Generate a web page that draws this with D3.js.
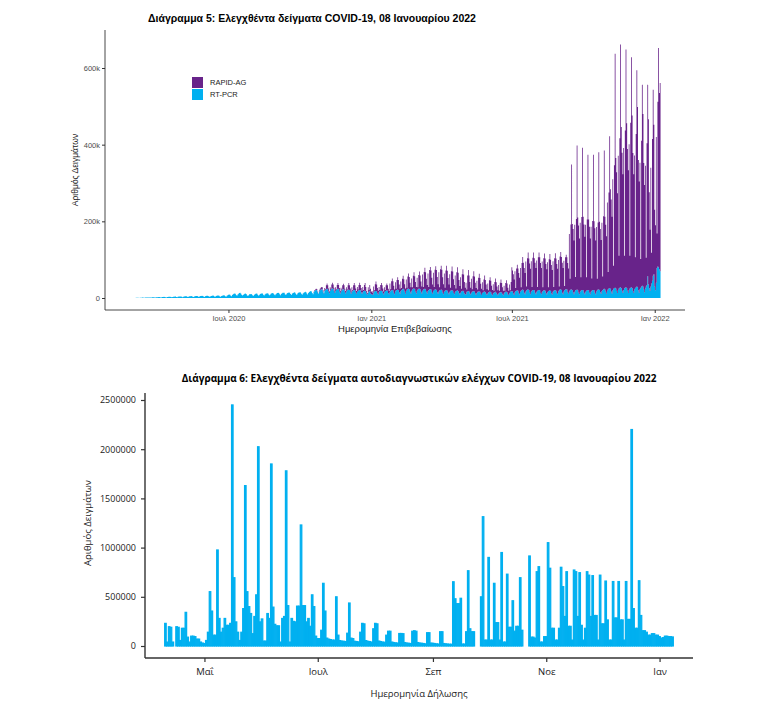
<!DOCTYPE html>
<meta charset="utf-8">
<title>Διαγράμματα 5 και 6</title>
<style>
  body { margin: 0; background: #fff; }
  svg { display: block; }
  .c5 text { font-family: "Liberation Sans", Arial, Helvetica, sans-serif; }
  .c6 text { font-family: "Open Sans", sans-serif; }
</style>
<svg id="chart" width="779" height="708"></svg>
<script src="https://d3js.org/d3.v7.min.js"></script>
<script>
// ---------- Διάγραμμα 5: ελεγχθέντα δείγματα (χιλιάδες / ημέρα), μία γραμμή ανά εβδομάδα Δευ..Κυρ
var pcrStart = "2020-02-24";
var pcrWeeks = [
  [0,0,0.1,0.1,0.2,0.2,0.1],[0.3,0.3,0.4,0.4,0.5,0.4,0.3],[0.6,0.7,0.8,1,1.1,0.9,0.7],[1.2,1.3,1.4,1.5,1.6,1.3,1],
  [1.5,1.6,1.8,2,1.9,1.5,1.2],[1.8,2,2.2,2.4,2.3,1.8,1.4],[2.2,2.5,2.8,3,2.8,2.2,1.6],[2.4,2.8,3,3.2,3.1,2.4,1.8],
  [2.8,3.2,3.5,3.8,3.6,2.8,2],[3.2,3.6,4,4.2,4,3,2.2],[3.5,4,4.4,4.6,4.3,3.3,2.4],[4,4.5,4.8,5,4.7,3.5,2.6],
  [4.2,4.8,5.2,5.4,5,3.7,2.8],[4.5,5,5.5,5.8,5.2,3.8,2.8],[4.6,5.2,5.6,6,5.4,4,3],[4.8,5.4,6,6.2,5.6,4,3],
  [5,5.6,6.2,6.5,6,4.2,3.2],[5.2,6,6.5,7,6.4,4.5,3.4],[6,7.5,8.5,9,8.5,6,4.5],[8,10,11,12,11,8,6],
  [9,11,13,13.5,12,8.5,6.5],[8,10,11,11.5,10.5,7.5,5.5],[7.5,9.5,10,10.5,10,7,5.5],[8,10,11,11.5,11,8,6],
  [8.5,10.5,11.5,12,11.5,8.5,6.5],[9,11,12,12.5,12,9,7],[9,11.5,12.5,13,12,9,7],[10,12,13,13.5,13,9.5,7.5],
  [10.5,12.5,13.5,14,13.5,10,8],[11,13,14,14.5,14,10.5,8],[11,13,14,15,14,10.5,8],[11.5,13.5,14.5,15,14.5,11,8.5],
  [12,14,15,16,15,11.5,9],[13,15.5,17,18,17,13,10],[15,18,20,21,20,15,11],[17,20,22,23,22,16,12],
  [18,21,23,24,23,17,12.5],[18,22,24,25,24,18,13],[18,21,23,24,23,17,12],[17,20,22,23,22,16,12],
  [17,20,21,22,21,16,11],[16,19,20,21,20,15,11],[16,19,20,21,20,15,11],[15,18,19,19,17,12,9],
  [14,17,18,12,10,10,8],[14,17,18,18,17,12,9],[15,18,19,19,18,13,9],[15,18,19,20,19,13,10],
  [16,19,20,21,20,14,10],[17,20,21,22,21,15,11],[18,21,23,24,22,16,11],[18,22,24,24,23,16,12],
  [19,22,24,25,23,16,12],[19,22,24,24,23,16,12],[19,22,23,24,22,16,12],[18,21,23,23,22,15,11],
  [18,21,22,23,21,15,11],[17,20,21,22,20,14,10],[16,19,20,21,19,14,10],[16,19,20,20,19,13,10],
  [15,18,19,20,18,13,9],[14,17,18,19,17,12,9],[10,16,17,18,17,12,9],[14,17,17,18,16,12,8],
  [13,16,17,17,16,11,8],[13,15,16,17,15,11,8],[12,15,16,16,15,10,7],[12,14,15,16,14,10,7],
  [12,14,15,15,14,10,7],[12,15,16,16,15,10,8],[13,16,17,18,17,12,8],[15,18,19,20,19,13,9],
  [16,19,21,22,20,14,10],[17,20,22,22,21,14,10],[16,19,21,21,20,14,10],[16,19,20,21,20,13,10],
  [15,18,20,20,19,13,9],[15,18,19,20,18,12,9],[16,19,20,21,19,13,10],[17,20,22,23,21,14,10],
  [17,21,22,23,22,15,11],[17,20,22,22,21,15,10],[16,20,21,22,20,14,10],[16,19,21,21,20,14,10],
  [16,19,20,21,20,14,10],[16,19,21,21,20,14,10],[17,20,22,22,21,15,11],[18,21,23,24,22,16,11],
  [19,23,25,26,24,17,12],[20,24,26,27,25,18,13],[21,25,27,28,26,19,13],[21,25,27,28,26,19,13],
  [21,25,27,28,26,18,13],[22,26,28,30,28,20,14],[23,27,30,32,30,22,15],[25,30,34,57,36,26,18],
  [30,38,45,58,62,30,20],[40,78,82,80,75,70]
];
var rapidStart = "2020-10-19";
var rapidWeeks = [
  [1,2,2,3,3,2,1],[3,4,5,6,6,4,2],[8,2,10,14,10,8,5],[10,2,11,15,11,9,6],
  [10,2,11,15,11,9,6],[10,2,11,14,11,8,6],[11,2,12,17,12,9,6],[12,2,13,18,13,10,7],
  [13,3,14,19,14,11,8],[14,3,15,20,12,6,4],[14,3,16,12,6,8,6],[16,3,18,25,18,14,10],
  [14,3,15,20,15,12,8],[13,3,14,18,14,11,8],[22,4,24,30,24,18,12],[24,4,26,32,26,20,13],
  [25,5,27,34,27,20,14],[30,5,32,40,32,24,16],[32,6,34,42,34,26,17],[34,6,36,45,36,27,18],
  [42,7,45,55,45,34,22],[46,8,50,58,50,38,24],[48,8,52,60,52,40,25],[50,8,54,62,54,40,26],
  [48,8,52,63,52,38,25],[46,8,50,62,50,36,24],[44,7,48,60,48,34,22],[40,7,44,56,44,30,18],
  [30,6,42,55,42,30,18],[36,6,40,52,40,28,18],[32,6,36,46,36,26,16],[28,5,32,42,32,24,15],
  [26,5,30,38,30,22,14],[24,5,27,35,27,20,13],[22,5,25,33,25,18,12],[20,4,23,30,23,17,11],
  [22,4,25,62,55,50,40],[55,8,58,67,58,52,44],[62,9,70,85,72,64,55],[78,10,82,97,82,76,66],
  [80,10,84,98,84,78,68],[82,10,86,98,86,78,68],[80,10,84,96,84,76,66],[78,10,82,95,82,74,64],
  [80,10,84,96,84,76,66],[82,10,86,97,86,78,68],[80,10,84,90,84,76,66],[150,30,170,326,172,165,140],
  [175,35,185,376,190,175,145],[180,35,190,371,192,178,150],[175,35,185,353,185,172,145],[170,32,180,353,180,168,140],
  [168,30,175,358,178,165,140],[178,35,190,361,190,175,150],[230,45,250,396,260,240,200],[290,60,320,610,340,310,260],
  [350,85,390,633,420,360,310],[370,85,410,620,430,370,320],[380,85,430,600,450,360,310],[350,80,400,564,470,340,290],
  [330,75,380,524,450,330,280],[320,75,370,499,430,250,160],[310,80,370,485,390,200,170],[380,90,430,572,460,491]
];
var series5 = ["RAPID-AG", "RT-PCR"];
var xTicks5 = ["2020-07-01", "2021-01-01", "2021-07-01", "2022-01-01"];
var xTickLabels5 = ["Ιουλ 2020", "Ιαν 2021", "Ιουλ 2021", "Ιαν 2022"];
var yTicks5 = [0, 200000, 400000, 600000];

// ---------- Διάγραμμα 6: δείγματα αυτοδιαγνωστικών ελέγχων (χιλιάδες / ημέρα)
var selfStart = "2021-04-10";
var selfTests = [
  230,40,196,190,40,0,196,190,56,180,180,342,90,40,100,100,95,70,70,40,30,25,56,140,552,355,110,110,976,280,
  140,180,280,210,210,230,2450,694,245,140,56,140,380,1630,552,400,330,125,300,520,2025,245,275,50,50,330,280,1850,395,220,
  205,205,40,280,300,1780,410,40,280,250,245,405,405,1230,410,410,245,280,200,520,400,100,75,75,160,637,355,80,70,65,
  60,60,500,110,55,50,48,45,130,437,80,75,48,45,42,140,230,225,55,48,45,40,175,230,225,50,45,40,38,110,
  150,150,40,35,32,30,127,127,125,35,30,28,25,150,155,150,35,30,28,25,22,135,135,30,28,25,22,20,145,145,
  25,22,20,18,18,653,480,430,430,485,20,20,145,765,175,145,145,0,0,0,500,1314,60,60,900,60,60,637,237,237,
  60,950,40,40,730,190,190,460,150,200,200,694,160,0,0,0,915,90,90,80,755,806,40,40,95,95,1050,790,180,180,
  60,60,180,800,603,300,755,200,200,60,772,755,300,745,210,60,180,755,720,300,715,310,310,60,720,225,225,660,265,60,
  60,655,285,285,655,265,265,60,655,270,270,2200,380,180,180,663,310,155,155,140,110,110,125,125,110,110,95,80,85,100,
  100,95,95,92
];
var xTicks6 = ["2021-05-01", "2021-07-01", "2021-09-01", "2021-11-01", "2022-01-01"];
var xTickLabels6 = ["Μαΐ", "Ιουλ", "Σεπ", "Νοε", "Ιαν"];
var yTicks6 = [0, 500000, 1000000, 1500000, 2000000, 2500000];

var purple = "#68238a", cyan = "#00b0f0";
var parseDay = d3.timeParse("%Y-%m-%d");

function daily(start, values) {
  var t0 = parseDay(start);
  return values.map(function(v, i) { return {date: d3.timeDay.offset(t0, i), value: v * 1000}; });
}

var svg = d3.select("#chart");

// ================= Διάγραμμα 5 =================
var g5 = svg.append("g").attr("class", "c5");
var x5 = d3.scaleTime().domain([parseDay("2020-01-24"), parseDay("2022-02-09")]).range([105, 685]);
var y5 = d3.scaleLinear().domain([0, 600000]).range([298, 68]);

var pcrDays = daily(pcrStart, d3.merge(pcrWeeks));
var rapidDays = daily(rapidStart, d3.merge(rapidWeeks));
var rapidByDay = new Map(rapidDays.map(function(d) { return [+d.date, d.value]; }));
var rows5 = pcrDays.map(function(d) {
  return {date: d.date, pcr: d.value, rapid: rapidByDay.get(+d.date) || 0};
});
var stack5 = d3.stack().keys(["pcr", "rapid"])(rows5);
var fill5 = {pcr: cyan, rapid: purple};

stack5.forEach(function(layer) {
  var p = d3.path();
  layer.forEach(function(s) {
    if (s[1] <= s[0]) return;
    var a = x5(d3.timeHour.offset(s.data.date, -12)), b = x5(d3.timeHour.offset(s.data.date, 12));
    p.rect(a, y5(s[1]), b - a, y5(s[0]) - y5(s[1]));
  });
  g5.append("path").attr("d", p.toString()).attr("fill", fill5[layer.key]);
});

// axes
g5.append("line").attr("x1", 105).attr("x2", 105).attr("y1", 30).attr("y2", 310).attr("stroke", "#333").attr("stroke-width", 0.9);
g5.append("line").attr("x1", 105).attr("x2", 685).attr("y1", 310).attr("y2", 310).attr("stroke", "#333").attr("stroke-width", 0.9);

g5.append("g").attr("transform", "translate(105,0)")
  .call(d3.axisLeft(y5).tickValues(yTicks5).tickSize(3).tickPadding(2).tickFormat(d3.format("~s")))
  .call(function(g) { g.select(".domain").remove(); })
  .call(function(g) {
    g.selectAll("line").attr("stroke", "#333");
    g.selectAll("text").attr("fill", "#4d4d4d").style("font-size", "7.5px");
  });

g5.append("g").attr("transform", "translate(0,310)")
  .call(d3.axisBottom(x5).tickValues(xTicks5.map(parseDay)).tickSize(3).tickPadding(3)
    .tickFormat(function(d, i) { return xTickLabels5[i]; }))
  .call(function(g) { g.select(".domain").remove(); })
  .call(function(g) {
    g.selectAll("line").attr("stroke", "#333");
    g.selectAll("text").attr("fill", "#4d4d4d").style("font-size", "7.5px");
  });

g5.append("text").attr("x", 148).attr("y", 22)
  .style("font-size", "10.5px").style("font-weight", "bold")
  .text("Διάγραμμα 5: Ελεγχθέντα δείγματα COVID-19, 08 Ιανουαρίου 2022");
g5.append("text").attr("x", 395).attr("y", 332).attr("text-anchor", "middle")
  .style("font-size", "9.5px").attr("fill", "#222").text("Ημερομηνία Επιβεβαίωσης");
g5.append("text").attr("transform", "translate(78,170) rotate(-90)").attr("text-anchor", "middle")
  .style("font-size", "8.5px").attr("fill", "#222").text("Αριθμός Δειγμάτων");

// legend
var leg = g5.append("g").attr("transform", "translate(192,77)");
series5.forEach(function(name, i) {
  leg.append("rect").attr("x", 0).attr("y", i * 12).attr("width", 11).attr("height", 11)
    .attr("fill", i === 0 ? purple : cyan);
  leg.append("text").attr("x", 18).attr("y", i * 12 + 5.5).attr("dy", "0.35em")
    .style("font-size", "7.5px").attr("fill", "#222").text(name);
});

// ================= Διάγραμμα 6 =================
var g6 = svg.append("g").attr("class", "c6");
var x6 = d3.scaleTime().domain([parseDay("2021-03-30"), parseDay("2022-01-19")]).range([145, 693]);
var y6 = d3.scaleLinear().domain([0, 2500000]).range([646, 400]);
var days6 = daily(selfStart, selfTests);

g6.append("g").selectAll("rect").data(days6.filter(function(d) { return d.value > 0; }))
  .join("rect")
  .attr("x", function(d) { return x6(d3.timeHour.offset(d.date, -10)); })
  .attr("width", function(d) { return x6(d3.timeHour.offset(d.date, 10)) - x6(d3.timeHour.offset(d.date, -10)); })
  .attr("y", function(d) { return y6(d.value); })
  .attr("height", function(d) { return y6(0) - y6(d.value); })
  .attr("fill", cyan).attr("stroke", cyan).attr("stroke-width", 1.2);

g6.append("line").attr("x1", 145).attr("x2", 145).attr("y1", 393).attr("y2", 658).attr("stroke", "#333").attr("stroke-width", 1.4);
g6.append("line").attr("x1", 145).attr("x2", 693).attr("y1", 658).attr("y2", 658).attr("stroke", "#333").attr("stroke-width", 1.4);

g6.append("g").attr("transform", "translate(145,0)")
  .call(d3.axisLeft(y6).tickValues(yTicks6).tickSize(4).tickPadding(5).tickFormat(d3.format("d")))
  .call(function(g) { g.select(".domain").remove(); })
  .call(function(g) {
    g.selectAll("line").attr("stroke", "#333").attr("stroke-width", 1.2);
    g.selectAll("text").attr("fill", "#222").style("font-size", "9px");
  });

g6.append("g").attr("transform", "translate(0,658)")
  .call(d3.axisBottom(x6).tickValues(xTicks6.map(parseDay)).tickSize(4).tickPadding(6)
    .tickFormat(function(d, i) { return xTickLabels6[i]; }))
  .call(function(g) { g.select(".domain").remove(); })
  .call(function(g) {
    g.selectAll("line").attr("stroke", "#333").attr("stroke-width", 1.2);
    g.selectAll("text").attr("fill", "#222").style("font-size", "9.5px");
  });

g6.append("text").attr("x", 419).attr("y", 382).attr("text-anchor", "middle")
  .style("font-size", "10px").style("font-weight", "bold")
  .text("Διάγραμμα 6: Ελεγχθέντα δείγματα αυτοδιαγνωστικών ελέγχων COVID-19, 08 Ιανουαρίου 2022");
g6.append("text").attr("x", 419).attr("y", 697).attr("text-anchor", "middle")
  .style("font-size", "9.5px").attr("fill", "#222").text("Ημερομηνία Δήλωσης");
g6.append("text").attr("transform", "translate(91,523) rotate(-90)").attr("text-anchor", "middle")
  .style("font-size", "9.5px").attr("fill", "#222").text("Αριθμός Δειγμάτων");
</script>
